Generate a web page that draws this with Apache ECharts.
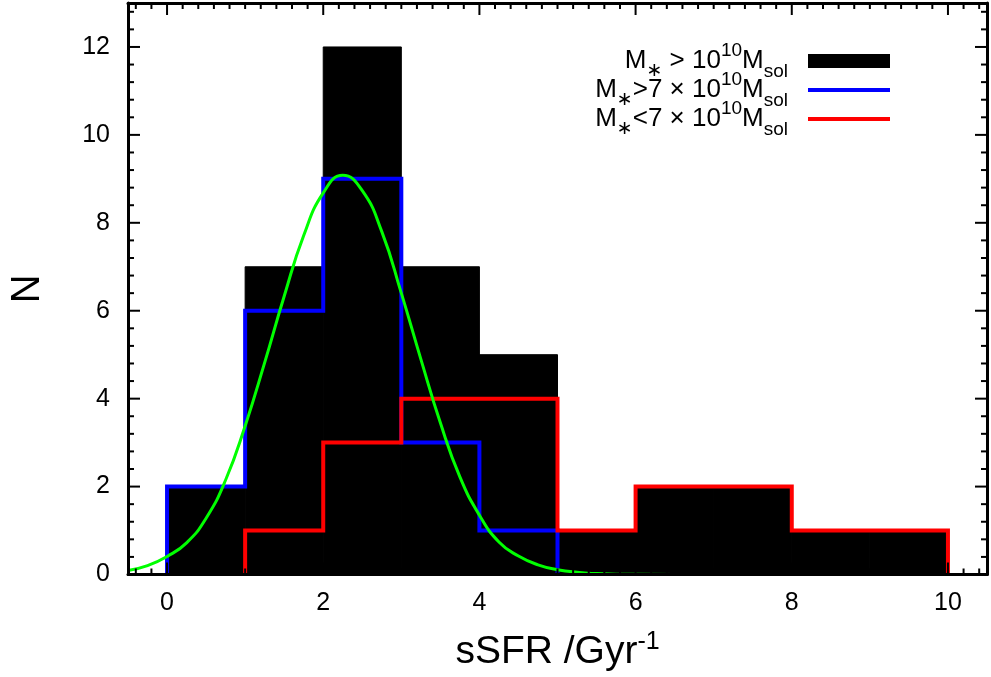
<!DOCTYPE html>
<html><head><meta charset="utf-8">
<script src="https://cdn.jsdelivr.net/npm/echarts@6/dist/echarts.min.js"></script>
<style>html,body{margin:0;padding:0;background:#fff}#c{width:991px;height:677px}</style>
</head><body><div id="c"></div>
<script>
// ---- data ----
const binEdges = [0, 1, 2, 3, 4, 5, 6, 7, 8, 9, 10];
const allCounts = [2, 7, 12, 7, 5, 1, 2, 2, 1, 1];        // black, M* > 10^10
const highMassCounts = [2, 6, 9, 3, 1, 0, 0, 0, 0, 0];   // blue, M* > 7x10^10
const lowMassCounts = [0, 1, 3, 4, 4, 1, 2, 2, 1, 1];    // red,  M* < 7x10^10
const fitX = [-0.5, -0.25, 0, 0.25, 0.5, 0.75, 1, 1.25, 1.5, 1.75, 2, 2.25, 2.5, 2.75, 3, 3.25, 3.5, 3.75, 4, 4.25, 4.5, 4.75, 5, 5.25, 5.5, 5.75, 6, 7, 8, 9, 10, 10.5];
const fitY = [0.09, 0.2, 0.41, 0.72, 1.28, 2.15, 3.38, 4.82, 6.33, 7.71, 8.68, 9.08, 8.73, 7.80, 6.40, 4.90, 3.45, 2.22, 1.35, 0.74, 0.42, 0.22, 0.11, 0.05, 0.02, 0.008, 0.003, 0, 0, 0, 0, 0];
const xTickLabels = [0, 2, 4, 6, 8, 10];
const yTickLabels = [0, 2, 4, 6, 8, 10, 12];
const seriesNames = ['M* > 10^10 Msol', 'M*>7 × 10^10 Msol', 'M*<7 × 10^10 Msol'];
const xRange = [-0.5, 10.5];
const yRange = [0, 13];

// ---- build ----
const FONT = 'Liberation Sans, Arial, Helvetica, sans-serif';
const richNames = {};
richNames[seriesNames[0]] = '{m|M}{st|∗}{m| > 10}{sup|10}{m|M}{sub|sol}';
richNames[seriesNames[1]] = '{m|M}{st|∗}{m|>7 × 10}{sup|10}{m|M}{sub|sol}';
richNames[seriesNames[2]] = '{m|M}{st|∗}{m|<7 × 10}{sup|10}{m|M}{sub|sol}';

function stepPoints(counts) {
  let f = counts.findIndex(c => c > 0);
  let l = counts.length - 1;
  while (counts[l] === 0) l--;
  const pts = [[binEdges[f], 0]];
  for (let i = f; i <= l; i++) {
    pts.push([binEdges[i], counts[i]]);
    pts.push([binEdges[i + 1], counts[i]]);
  }
  pts.push([binEdges[l + 1], 0]);
  return pts;
}

// tick marks (inward, mirrored on all four sides)
const tickData = [];
for (let k = -2; k <= 52; k++) {
  const v = +(k * 0.2).toFixed(2);
  if (v < xRange[0] || v > xRange[1]) continue;
  tickData.push([v, xTickLabels.indexOf(v) >= 0 ? 0 : 1]);
}
for (let k = 1; k <= 32; k++) {
  const v = +(k * 0.4).toFixed(2);
  if (v >= yRange[1]) continue;
  tickData.push([v, yTickLabels.indexOf(v) >= 0 ? 2 : 3]);
}

const chart = echarts.init(document.getElementById('c'), null, {renderer: 'canvas'});
chart.setOption({
  animation: false,
  backgroundColor: '#fff',
  textStyle: {fontFamily: FONT},
  grid: {left: 128, right: 4, top: 3, bottom: 102, containLabel: false},
  legend: {
    orient: 'vertical', right: 94, top: 36, align: 'right',
    itemWidth: 82, itemHeight: 14, itemGap: -11,
    selectedMode: false,
    data: [
      {name: seriesNames[0], icon: 'rect'},
      {name: seriesNames[1], itemStyle: {opacity: 0}, lineStyle: {width: 4}},
      {name: seriesNames[2], itemStyle: {opacity: 0}, lineStyle: {width: 4}}
    ],
    formatter: n => richNames[n],
    textStyle: {
      color: '#000', fontFamily: FONT, fontSize: 26, padding: [0, 15, 0, 0],
      rich: {
        m: {fontSize: 26, lineHeight: 40, fontFamily: FONT, color: '#000'},
        st: {fontSize: 19, lineHeight: 26, verticalAlign: 'bottom', fontFamily: 'DejaVu Sans', color: '#000'},
        sub: {fontSize: 19, lineHeight: 26, verticalAlign: 'bottom', fontFamily: FONT, color: '#000'},
        sup: {fontSize: 19, lineHeight: 15, verticalAlign: 'top', fontFamily: FONT, color: '#000'}
      }
    }
  },
  xAxis: [{
    type: 'value', min: xRange[0], max: xRange[1], position: 'bottom', z: 10,
    name: '{t|sSFR /Gyr}{s|-1}', nameLocation: 'middle', nameGap: 55,
    nameTextStyle: {rich: {
      t: {fontSize: 39, lineHeight: 46, fontFamily: FONT, color: '#000'},
      s: {fontSize: 25, lineHeight: 25, verticalAlign: 'top', fontFamily: FONT, color: '#000'}
    }},
    axisLine: {show: true, onZero: false, lineStyle: {color: '#000', width: 3}},
    axisTick: {show: false}, splitLine: {show: false},
    axisLabel: {customValues: xTickLabels, fontSize: 25, color: '#000', fontFamily: FONT, margin: 16}
  }, {
    type: 'value', min: xRange[0], max: xRange[1], position: 'top', z: 10,
    axisLine: {show: true, onZero: false, lineStyle: {color: '#000', width: 3}},
    axisTick: {show: false}, axisLabel: {show: false}, splitLine: {show: false}
  }],
  yAxis: [{
    type: 'value', min: yRange[0], max: yRange[1], position: 'left', z: 10,
    name: 'N', nameLocation: 'middle', nameGap: 80,
    nameTextStyle: {fontSize: 40, color: '#000', fontFamily: FONT},
    axisLine: {show: true, onZero: false, lineStyle: {color: '#000', width: 3}},
    axisTick: {show: false}, splitLine: {show: false},
    axisLabel: {customValues: yTickLabels, fontSize: 25, color: '#000', fontFamily: FONT, margin: 18}
  }, {
    type: 'value', min: yRange[0], max: yRange[1], position: 'right', z: 10,
    axisLine: {show: true, onZero: false, lineStyle: {color: '#000', width: 3}},
    axisTick: {show: false}, axisLabel: {show: false}, splitLine: {show: false}
  }],
  series: [
    {
      type: 'custom', name: seriesNames[0], xAxisIndex: 0, yAxisIndex: 0, z: 1,
      itemStyle: {color: '#000'},
      encode: {x: [0, 1], y: 2},
      data: allCounts.map((c, i) => [binEdges[i], binEdges[i + 1], c]),
      renderItem: (params, api) => {
        const p0 = api.coord([api.value(0), 0]);
        const p1 = api.coord([api.value(1), api.value(2)]);
        return {type: 'rect', shape: {x: p0[0], y: p1[1], width: p1[0] - p0[0], height: p0[1] - p1[1]},
                style: {fill: '#000', stroke: '#000', lineWidth: 1}};
      }
    },
    {
      type: 'line', name: seriesNames[1], data: stepPoints(highMassCounts), symbol: 'none', showSymbol: false, z: 3,
      itemStyle: {color: '#0000ff'},
      lineStyle: {color: '#0000ff', width: 4, join: 'miter', cap: 'butt'}
    },
    {
      type: 'line', name: seriesNames[2], data: stepPoints(lowMassCounts), symbol: 'none', showSymbol: false, z: 4,
      itemStyle: {color: '#ff0000'},
      lineStyle: {color: '#ff0000', width: 4, join: 'miter', cap: 'butt'}
    },
    {
      type: 'line', name: 'fit', data: fitX.map((x, i) => [x, fitY[i]]), symbol: 'none', z: 5,
      smooth: true,
      lineStyle: {color: '#00ff00', width: 3}
    },
    {
      type: 'custom', name: 'ticks', z: 6, silent: true,
      data: tickData,
      renderItem: (params, api) => {
        const v = api.value(0), kind = api.value(1);
        const len = (kind === 0 || kind === 2) ? 12 : 6;
        const st = {stroke: '#000', lineWidth: 2};
        if (kind < 2) {
          const b = api.coord([v, yRange[0]]), t = api.coord([v, yRange[1]]);
          return {type: 'group', children: [
            {type: 'line', shape: {x1: b[0], y1: b[1], x2: b[0], y2: b[1] - len}, style: st},
            {type: 'line', shape: {x1: t[0], y1: t[1], x2: t[0], y2: t[1] + len}, style: st}
          ]};
        }
        const l = api.coord([xRange[0], v]), r = api.coord([xRange[1], v]);
        return {type: 'group', children: [
          {type: 'line', shape: {x1: l[0], y1: l[1], x2: l[0] + len, y2: l[1]}, style: st},
          {type: 'line', shape: {x1: r[0], y1: r[1], x2: r[0] - len, y2: r[1]}, style: st}
        ]};
      }
    }
  ]
});
</script>
</body></html>
